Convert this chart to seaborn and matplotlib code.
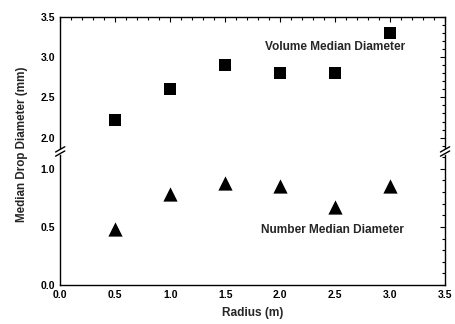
import matplotlib
matplotlib.use("Agg")
import matplotlib.pyplot as plt
import seaborn as sns
import pandas as pd
from matplotlib.ticker import MultipleLocator

# Data
radius = [0.5, 1.0, 1.5, 2.0, 2.5, 3.0]
volume_median = [2.22, 2.60, 2.90, 2.80, 2.80, 3.30]
number_median = [0.48, 0.78, 0.88, 0.85, 0.67, 0.85]

df_vol = pd.DataFrame({"Radius": radius, "Diameter": volume_median})
df_num = pd.DataFrame({"Radius": radius, "Diameter": number_median})

sns.set_style("white")
plt.rcParams["font.family"] = ["Liberation Sans", "DejaVu Sans"]
plt.rcParams["font.weight"] = "bold"

fig = plt.figure(figsize=(4.56, 3.24), dpi=100)
ax_top = fig.add_axes([0.132, 0.543, 0.844, 0.405])
ax_bot = fig.add_axes([0.132, 0.120, 0.844, 0.402])

sns.scatterplot(data=df_vol, x="Radius", y="Diameter", ax=ax_top, marker="s",
                s=85, color="black", edgecolor="black", linewidth=0)
sns.scatterplot(data=df_num, x="Radius", y="Diameter", ax=ax_bot, marker="^",
                s=105, color="black", edgecolor="black", linewidth=0)

ax_top.set_ylim(1.87, 3.5)
ax_bot.set_ylim(0.0, 1.12)
for ax in (ax_top, ax_bot):
    ax.set_xlim(0.0, 3.5)
    ax.xaxis.set_major_locator(MultipleLocator(0.5))
    ax.xaxis.set_minor_locator(MultipleLocator(0.1))
    ax.yaxis.set_minor_locator(MultipleLocator(0.1))
    ax.tick_params(which="both", direction="in", top=True, right=True,
                   labelsize=7.5, width=0.8, colors="black")
    ax.tick_params(which="major", length=3.5)
    ax.tick_params(which="minor", length=2)
    for sp in ax.spines.values():
        sp.set_color("black")
        sp.set_linewidth(1.0)
    ax.set_xlabel("")
    ax.set_ylabel("")

ax_top.set_yticks([2.0, 2.5, 3.0, 3.5])
ax_bot.set_yticks([0.0, 0.5, 1.0])
ax_top.spines["bottom"].set_visible(False)
ax_top.tick_params(which="both", bottom=False, labelbottom=False)
ax_bot.spines["top"].set_visible(False)
ax_bot.tick_params(which="both", top=False)

# break marks
d = 0.012
kw = dict(color="black", clip_on=False, linewidth=1.0)
ax_top.plot((-d, d), (-0.03, 0.01), transform=ax_top.transAxes, **kw)
ax_top.plot((1 - d, 1 + d), (-0.03, 0.01), transform=ax_top.transAxes, **kw)
ax_bot.plot((-d, d), (0.99, 1.03), transform=ax_bot.transAxes, **kw)
ax_bot.plot((1 - d, 1 + d), (0.99, 1.03), transform=ax_bot.transAxes, **kw)

ax_top.text(2.50, 3.13, "Volume Median Diameter", ha="center", va="center",
            fontsize=8.6, fontweight="bold")
ax_bot.text(2.48, 0.47, "Number Median Diameter", ha="center", va="center",
            fontsize=8.6, fontweight="bold")

ax_bot.set_xlabel("Radius (m)", fontsize=8.6, fontweight="bold", labelpad=5)
fig.text(0.048, 0.556, "Median Drop Diameter (mm)", rotation=90, ha="center",
         va="center", fontsize=8.4, fontweight="bold")

fig.savefig("out.png", dpi=100)
